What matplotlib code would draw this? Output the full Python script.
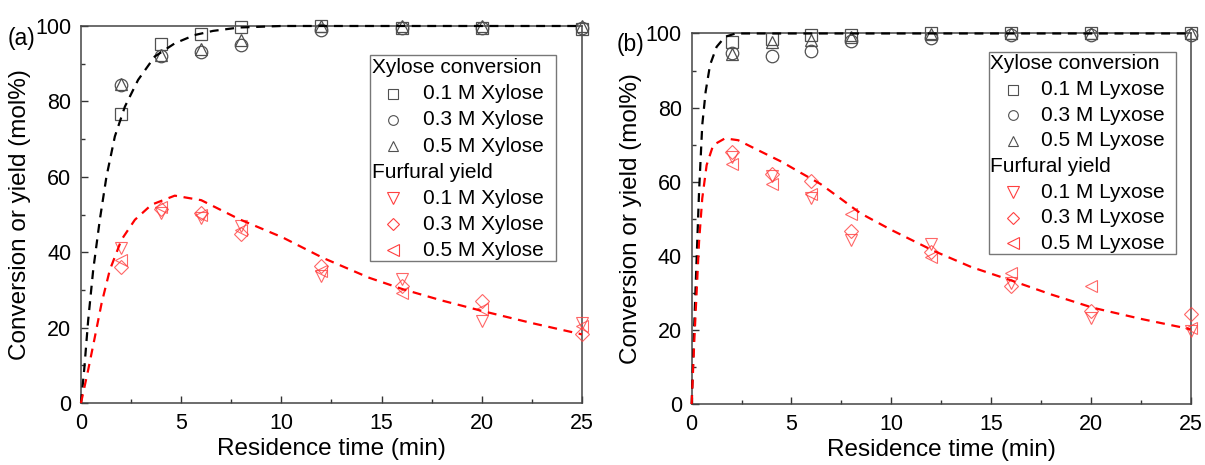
import matplotlib
matplotlib.use("Agg")
import matplotlib.pyplot as plt
from matplotlib.patches import Rectangle
from matplotlib.ticker import MultipleLocator

plt.rcParams['font.family'] = ['Liberation Sans', 'DejaVu Sans']

# residence times of the measurements (min)
t_exp = [2, 4, 6, 8, 12, 16, 20, 25]

# (a) xylose: conversion and furfural yield (mol%)
xyl_conv_01 = [76.6, 95.2, 97.9, 99.7, 100.0, 99.6, 99.6, 99.2]
xyl_conv_03 = [84.4, 92.0, 93.0, 95.0, 99.0, 99.5, 99.5, 99.6]
xyl_conv_05 = [84.6, 92.3, 93.8, 96.2, 100.0, 100.0, 100.0, 100.0]
xyl_yield_01 = [41.2, 50.5, 49.0, 47.0, 33.7, 33.0, 21.8, 21.3]
xyl_yield_03 = [36.0, 51.5, 50.5, 44.7, 36.3, 31.0, 27.0, 18.3]
xyl_yield_05 = [38.0, 52.0, 50.0, 46.0, 35.0, 29.3, 25.0, 20.4]

# (a) model curves
xyl_fit_conv_t = [0, 0.16, 0.36, 0.61, 0.94, 1.27, 1.69, 2.19, 2.85, 3.68, 4.68, 5.67, 6.59, 7.9, 10, 25]
xyl_fit_conv = [0, 8.8, 22.0, 35.3, 48.6, 60.0, 70.7, 78.6, 85.7, 91.9, 95.4, 97.6, 98.7, 99.6, 100, 100]
xyl_fit_yield_t = [0, 0.36, 0.7, 1.03, 1.44, 2.02, 2.69, 3.52, 4.68, 6.0, 7.92, 10.07, 12.07, 14.39, 16.05, 18, 20.03, 22.5, 25]
xyl_fit_yield = [0, 8.8, 17.7, 26.5, 35.3, 43.3, 48.6, 52.6, 55.0, 53.8, 48.7, 43.9, 38.5, 33.2, 30.2, 27.2, 24.4, 21.2, 18.2]

# (b) lyxose: conversion and furfural yield (mol%)
lyx_conv_01 = [97.6, 98.5, 99.5, 99.5, 100.0, 100.0, 100.0, 100.0]
lyx_conv_03 = [94.8, 94.0, 95.4, 98.1, 98.8, 99.6, 99.6, 99.6]
lyx_conv_05 = [94.5, 97.7, 98.3, 99.0, 99.8, 100.0, 100.0, 100.0]
lyx_yield_01 = [66.6, 61.6, 55.5, 44.2, 43.2, 32.8, 23.3, 19.7]
lyx_yield_03 = [67.9, 62.0, 60.3, 46.8, 41.0, 31.9, 25.1, 24.2]
lyx_yield_05 = [64.8, 59.4, 56.7, 51.3, 39.7, 35.5, 31.9, 20.6]

# (b) model curves
lyx_fit_conv_t = [0, 0.13, 0.25, 0.37, 0.53, 0.7, 0.92, 1.25, 1.67, 2.2, 25]
lyx_fit_conv = [0, 21.4, 39.4, 57.3, 75.3, 84.3, 91.5, 96.4, 99.1, 100, 100]
lyx_fit_yield_t = [0, 0.13, 0.25, 0.37, 0.53, 0.75, 1.08, 1.67, 2.33, 3.33, 4.5, 5.5, 6.45, 7.45, 8.45, 10, 12.1, 14, 16.1, 18, 20.1, 22.5, 25]
lyx_fit_yield = [0, 16.9, 30.4, 43.8, 55.5, 64.5, 69.9, 71.7, 71.2, 68.5, 65.4, 62.3, 59.4, 55.5, 51.5, 47.0, 41.4, 37.0, 33.2, 29.6, 26.0, 23.0, 20.2]

GREY = '#505050'
RED = '#ff4040'
conv_markers = ['s', 'o', '^']
yield_markers = ['v', 'D', '<']
conc_labels = ['0.1 M', '0.3 M', '0.5 M']


def panel(ax, conv, yld, fit_ct, fit_c, fit_yt, fit_y, sugar, box, rows_y, xs):
    for y, m in zip(conv, conv_markers):
        ax.plot(t_exp, y, linestyle='none', marker=m, ms=8.5 if m != 'o' else 9,
                mfc='none', mec=GREY, mew=0.9, clip_on=False, zorder=3)
    for y, m in zip(yld, yield_markers):
        ax.plot(t_exp, y, linestyle='none', marker=m, ms=9 if m != 'D' else 7.5,
                mfc='none', mec=RED, mew=0.8, alpha=0.8, clip_on=False, zorder=3)
    ax.plot(fit_ct, fit_c, color='black', lw=1.6, dashes=(4, 3), zorder=4, clip_on=False)
    ax.plot(fit_yt, fit_y, color='#ff0000', lw=1.6, dashes=(4, 3), zorder=4, clip_on=False)

    ax.set_xlim(0, 25)
    ax.set_ylim(0, 100)
    ax.xaxis.set_major_locator(MultipleLocator(5))
    ax.xaxis.set_minor_locator(MultipleLocator(2.5))
    ax.yaxis.set_major_locator(MultipleLocator(20))
    ax.yaxis.set_minor_locator(MultipleLocator(10))
    ax.tick_params(which='both', direction='in', top=False, right=False,
                   labelsize=15.5, color='#333333', width=1)
    ax.tick_params(which='major', length=5, pad=7)
    ax.tick_params(which='minor', length=3)
    for s in ax.spines.values():
        s.set_color('#444444')
        s.set_linewidth(1.1)
    ax.set_xlabel('Residence time (min)', fontsize=17.5, labelpad=3)
    ax.set_ylabel('Conversion or yield (mol%)', fontsize=17.5, labelpad=3)

    # legend block
    x0, y0, x1, y1 = box
    ax.add_patch(Rectangle((x0, y0), x1 - x0, y1 - y0, transform=ax.transAxes,
                           fill=False, ec='#777777', lw=1, zorder=5))
    hx, mx, tx = xs
    ax.text(hx, rows_y[0], 'Xylose conversion', transform=ax.transAxes,
            fontsize=15, va='center', ha='left', zorder=6)
    ax.text(hx, rows_y[4], 'Furfural yield', transform=ax.transAxes,
            fontsize=15, va='center', ha='left', zorder=6)
    for i in range(3):
        ax.plot([mx], [rows_y[1 + i]], transform=ax.transAxes, marker=conv_markers[i],
                ms=7, mfc='none', mec=GREY, mew=0.8, ls='none', zorder=6, clip_on=False)
        ax.text(tx, rows_y[1 + i], conc_labels[i] + ' ' + sugar, transform=ax.transAxes,
                fontsize=15, va='center', ha='left', zorder=6)
        ax.plot([mx], [rows_y[5 + i]], transform=ax.transAxes, marker=yield_markers[i],
                ms=8 if yield_markers[i] != 'D' else 6.5, mfc='none', mec=RED, mew=0.8,
                ls='none', zorder=6, clip_on=False)
        ax.text(tx, rows_y[5 + i], conc_labels[i] + ' ' + sugar, transform=ax.transAxes,
                fontsize=15, va='center', ha='left', zorder=6)


fig = plt.figure(figsize=(12.05, 4.65), dpi=100)
ax_a = fig.add_axes([0.0672, 0.1333, 0.4158, 0.8108])
ax_b = fig.add_axes([0.574, 0.131, 0.4141, 0.797])

rows_a = [(403 - py) / 377 for py in [68, 94, 120, 146, 172, 198, 224, 250]]
panel(ax_a, [xyl_conv_01, xyl_conv_03, xyl_conv_05],
      [xyl_yield_01, xyl_yield_03, xyl_yield_05],
      xyl_fit_conv_t, xyl_fit_conv, xyl_fit_yield_t, xyl_fit_yield,
      'Xylose', (0.577, 0.377, 0.948, 0.923), rows_a, (0.581, 0.623, 0.682))

rows_b = [(404 - py) / 370.7 for py in [63.5, 89.5, 115, 140.5, 166.5, 192, 217.5, 243]]
panel(ax_b, [lyx_conv_01, lyx_conv_03, lyx_conv_05],
      [lyx_yield_01, lyx_yield_03, lyx_yield_05],
      lyx_fit_conv_t, lyx_fit_conv, lyx_fit_yield_t, lyx_fit_yield,
      'Lyxose', (0.5954, 0.406, 0.9711, 0.950), rows_b, (0.597, 0.644, 0.701))

fig.text(8 / 1205, 1 - 38 / 465, '(a)', fontsize=16.5, va='center', ha='left')
fig.text(617 / 1205, 1 - 45 / 465, '(b)', fontsize=16.5, va='center', ha='left')

fig.savefig('out.png', dpi=100)
